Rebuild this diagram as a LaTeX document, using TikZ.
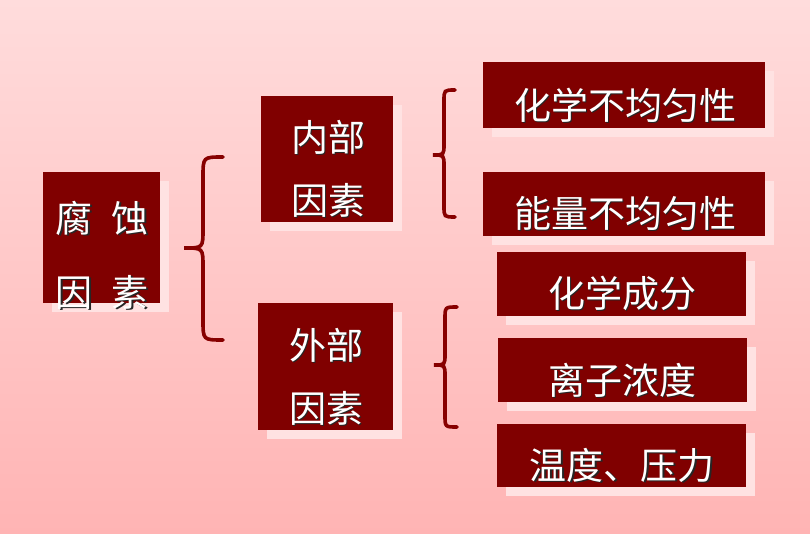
\documentclass[tikz,border=0pt]{standalone}
\usepackage{fontspec}
\newfontfamily\cjk{Noto Sans CJK SC}
\usetikzlibrary{shadows}
\definecolor{bgtop}{RGB}{255,220,220}
\definecolor{bgbot}{RGB}{255,180,180}
\definecolor{boxred}{RGB}{128,0,0}
\definecolor{shadowpink}{RGB}{255,226,226}
\definecolor{bracered}{RGB}{135,0,0}
\newcommand\sht[1]{\rlap{\kern1.6pt\raisebox{-1.6pt}{\color{black!85}#1}}#1}
\newcommand\mybrace[6]{% xend, xv, xtip, ytop, ytip, ybot
  \draw[brc] (#1,#4) .. controls (#2,#4) .. (#2,#4+#1-#2) -- (#2,#5-#2+#3)
    .. controls (#2,#5) .. (#3,#5) .. controls (#2,#5) .. (#2,#5+#2-#3)
    -- (#2,#6-#1+#2) .. controls (#2,#6) .. (#1,#6);}
\tikzset{
  box/.style={fill=boxred, inner sep=0pt, anchor=north west,
    general shadow={fill=shadowpink, shadow xshift=9pt, shadow yshift=-9pt}},
  txt/.style={text=white, font=\cjk\fontsize{37}{37}\selectfont, inner sep=0pt},
  brc/.style={draw=bracered, line width=3.6pt, line cap=round}
}
\begin{document}
\begin{tikzpicture}[x=1pt,y=-1pt]
\shade[top color=bgtop, bottom color=bgbot] (0,0) rectangle (810,534);
\useasboundingbox (0,0) rectangle (810,534);
% boxes
\node[box, minimum width=117pt, minimum height=131pt] (b1) at (43,172) {};
\node[box, minimum width=132pt, minimum height=126pt] (b2) at (261,96) {};
\node[box, minimum width=135pt, minimum height=127pt] (b3) at (258,303) {};
\node[box, minimum width=282pt, minimum height=66pt] (r1) at (483,62) {};
\node[box, minimum width=282pt, minimum height=64pt] (r2) at (483,172) {};
\node[box, minimum width=249pt, minimum height=64pt] (r3) at (497,252) {};
\node[box, minimum width=249pt, minimum height=64pt] (r4) at (498,338) {};
\node[box, minimum width=249pt, minimum height=63pt] (r5) at (497,424) {};
% texts
\node[txt] (t1a) at (102,219) {\sht{腐}\hspace{19pt}\sht{蚀}};
\node[txt] (t1b) at (102,293) {\sht{因}\hspace{19pt}\sht{素}};
\node[txt] (t2a) at (328,138) {\sht{内部}};
\node[txt] (t2b) at (328,201) {\sht{因素}};
\node[txt] (t3a) at (326,346) {\sht{外部}};
\node[txt] (t3b) at (326,409) {\sht{因素}};
\node[txt] (tr1) at (625,106) {\sht{化学不均匀性}};
\node[txt] (tr2) at (625,214) {\sht{能量不均匀性}};
\node[txt] (tr3) at (622,294) {\sht{化学成分}};
\node[txt] (tr4) at (622,381) {\sht{离子浓度}};
\node[txt] (tr5) at (622,466) {\sht{温度、压力}};
% braces
\mybrace{223}{203}{184}{157}{248}{340}
\mybrace{455}{444}{433}{90}{155}{217}
\mybrace{457}{445}{434}{307}{365}{427}
\end{tikzpicture}
\end{document}
